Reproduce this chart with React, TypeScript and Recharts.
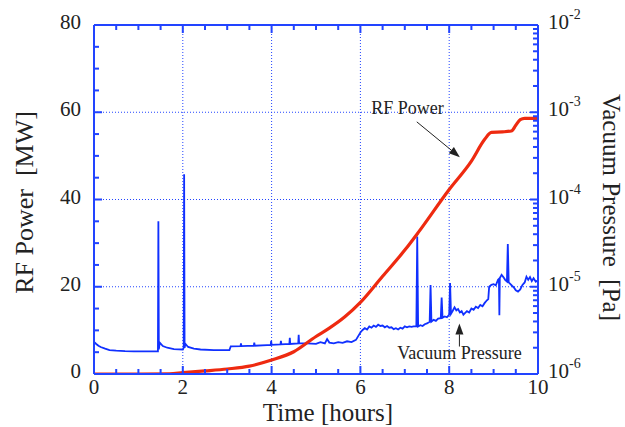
import React from 'react'
import { LineChart, Line, XAxis, YAxis, ReferenceLine, ReferenceDot } from 'recharts'

const AXIS_BLUE = '#2244ff'
const LINE_BLUE = '#1030ff'
const RED = '#ee2a10'
const INK = '#222'
const FONT = '"Liberation Serif", "Times New Roman", serif'

// axis ticks
const timeTicks = [0, 0.5, 1, 1.5, 2, 2.5, 3, 3.5, 4, 4.5, 5, 5.5, 6, 6.5, 7, 7.5, 8, 8.5, 9, 9.5, 10]
const timeGrid = [2, 4, 6, 8]
const powerTicks = [0, 5, 10, 15, 20, 25, 30, 35, 40, 45, 50, 55, 60, 65, 70, 75, 80]
const powerGrid = [20, 40, 60]
const pressureDecades = [1e-6, 1e-5, 1e-4, 1e-3]
const pressureTicks = pressureDecades.flatMap(d => [1, 2, 3, 4, 5, 6, 7, 8, 9].map(m => m * d)).concat([1e-2])

// RF power [MW] vs time [h]
const rfTime = [0, 1.0, 1.7, 2.0, 2.5, 3.0, 3.5, 4.0, 4.5, 5.0, 5.3, 5.65, 6.0, 6.5, 7.0, 7.3, 8.0, 8.5, 8.8, 8.95, 9.2, 9.4, 9.5, 9.6, 9.7, 10]
const rfPower = [0, 0, 0.05, 0.3, 0.7, 1.15, 1.8, 3.2, 5.1, 8.6, 10.5, 13.1, 16.4, 22.4, 28.4, 32.4, 42.3, 48.8, 53.8, 55.4, 55.5, 55.7, 57.0, 58.3, 58.6, 58.6]

// vacuum pressure [Pa] vs time [h]
const vacTime = [
  0, 0.05, 0.1, 0.15, 0.25, 0.35, 0.5, 0.7, 0.9, 1.2, 1.44, 1.45, 1.46, 1.48, 1.55, 1.65, 1.8, 2.0, 2.02, 2.03,
  2.04, 2.06, 2.12, 2.25, 2.4, 2.7, 3.05, 3.08, 3.3, 3.31, 3.32, 3.6, 3.61, 3.62, 3.9, 3.98, 3.99, 4.0, 4.2, 4.21,
  4.22, 4.4, 4.41, 4.42, 4.6, 4.61, 4.62, 4.8, 5.0, 5.1, 5.2, 5.25, 5.3, 5.4, 5.5, 5.6, 5.7, 5.8, 5.9, 6.0,
  6.05, 6.1, 6.15, 6.2, 6.25, 6.3, 6.35, 6.4, 6.45, 6.5, 6.55, 6.6, 6.65, 6.7, 6.75, 6.8, 6.85, 6.9, 6.95, 7.0,
  7.05, 7.1, 7.15, 7.2, 7.26, 7.28, 7.3, 7.35, 7.4, 7.45, 7.5, 7.56, 7.58, 7.6, 7.65, 7.7, 7.75, 7.81, 7.83, 7.85,
  7.9, 7.95, 8.0, 8.02, 8.04, 8.08, 8.12, 8.16, 8.2, 8.24, 8.28, 8.32, 8.36, 8.4, 8.45, 8.5, 8.55, 8.6, 8.65, 8.7,
  8.75, 8.8, 8.85, 8.88, 8.9, 8.95, 9.0, 9.05, 9.1, 9.12, 9.13, 9.14, 9.18, 9.22, 9.26, 9.3, 9.32, 9.34, 9.38, 9.42,
  9.46, 9.5, 9.55, 9.6, 9.65, 9.7, 9.74, 9.78, 9.82, 9.86, 9.9, 9.95, 10.0,
]
const vacPressure = [
  2.34e-6, 2.21e-6, 2.11e-6, 2.04e-6, 1.95e-6, 1.88e-6, 1.85e-6, 1.83e-6, 1.82e-6, 1.82e-6, 1.82e-6, 5.62e-5, 1.91e-6, 2.29e-6, 2.09e-6, 2.0e-6, 1.93e-6, 1.91e-6, 2.0e-6, 1.95e-4,
  2.0e-6, 2.21e-6, 2.04e-6, 1.95e-6, 1.91e-6, 1.88e-6, 1.88e-6, 2.07e-6, 2.09e-6, 2.24e-6, 2.09e-6, 2.11e-6, 2.29e-6, 2.11e-6, 2.14e-6, 2.14e-6, 2.4e-6, 2.16e-6, 2.19e-6, 2.4e-6,
  2.19e-6, 2.21e-6, 2.6e-6, 2.21e-6, 2.24e-6, 2.82e-6, 2.24e-6, 2.24e-6, 2.21e-6, 2.32e-6, 2.24e-6, 2.51e-6, 2.29e-6, 2.24e-6, 2.32e-6, 2.27e-6, 2.37e-6, 2.32e-6, 2.46e-6, 2.99e-6,
  3.2e-6, 3.35e-6, 3.24e-6, 3.51e-6, 3.39e-6, 3.59e-6, 3.47e-6, 3.67e-6, 3.55e-6, 3.59e-6, 3.43e-6, 3.55e-6, 3.39e-6, 3.43e-6, 3.27e-6, 3.35e-6, 3.24e-6, 3.39e-6, 3.31e-6, 3.51e-6,
  3.43e-6, 3.51e-6, 3.47e-6, 3.51e-6, 3.51e-6, 3.76e-5, 3.51e-6, 3.63e-6, 3.55e-6, 3.72e-6, 3.8e-6, 3.98e-6, 1.05e-5, 3.98e-6, 4.17e-6, 4.07e-6, 4.32e-6, 4.37e-6, 7.5e-6, 4.42e-6,
  4.57e-6, 4.47e-6, 4.79e-6, 1.1e-5, 4.9e-6, 5.31e-6, 5.82e-6, 5.37e-6, 5.56e-6, 5.07e-6, 5.25e-6, 4.79e-6, 5.01e-6, 5.25e-6, 5.07e-6, 5.62e-6, 5.43e-6, 5.89e-6, 5.69e-6, 6.17e-6,
  5.96e-6, 6.53e-6, 7.0e-6, 7.24e-6, 1.0e-5, 1.05e-5, 1.07e-5, 1.04e-5, 1.2e-5, 1.23e-5, 4.73e-6, 1.26e-5, 1.37e-5, 1.29e-5, 1.2e-5, 1.15e-5, 3.09e-5, 1.12e-5, 1.07e-5, 1.02e-5,
  9.77e-6, 9.12e-6, 8.81e-6, 9.33e-6, 1.05e-5, 1.12e-5, 1.3e-5, 1.2e-5, 1.29e-5, 1.16e-5, 1.25e-5, 1.14e-5, 1.19e-5,
]

const rfData = rfTime.map((t, i) => ({ t, p: rfPower[i] }))
const vacData = vacTime.map((t, i) => ({ t, v: vacPressure[i] }))

const tickText = { fontSize: 21, fontFamily: FONT, fill: INK }
const axisLine = { stroke: AXIS_BLUE, strokeWidth: 2 }
const MAJOR = 8
const MINOR = 5

// tick marks drawn as thin filled rects pointing into the plot
function LeftTick({ x, y, payload }: any) {
  const major = payload.value % 20 === 0
  return (
    <g>
      <rect x={x} y={y - 1} width={major ? MAJOR : MINOR} height={2} fill={AXIS_BLUE} />
      {major && <text x={x - 13} y={y + 4} textAnchor="end" {...tickText}>{payload.value}</text>}
    </g>
  )
}

function RightTick({ x, y, payload }: any) {
  const v = payload.value
  const e = Math.round(Math.log10(v))
  const major = Math.abs(v / Math.pow(10, e) - 1) < 1e-6
  const len = major ? MAJOR : MINOR
  return (
    <g>
      <rect x={x - len} y={y - 1} width={len} height={2} fill={AXIS_BLUE} />
      {major && (
        <text x={x + 10} y={y + 4} {...tickText}>
          10<tspan dy={-10} fontSize={14}>{e}</tspan>
        </text>
      )}
    </g>
  )
}

function BottomTick({ x, y, payload }: any) {
  const major = payload.value % 2 === 0
  const len = major ? MAJOR : MINOR
  return (
    <g>
      <rect x={x - 1} y={y - len} width={2} height={len} fill={AXIS_BLUE} />
      {major && <text x={x} y={y + 20} textAnchor="middle" {...tickText}>{payload.value}</text>}
    </g>
  )
}

function TopTick({ x, y, payload }: any) {
  const len = payload.value % 2 === 0 ? MAJOR : MINOR
  return <rect x={x - 1} y={y} width={2} height={len} fill={AXIS_BLUE} />
}

const titleStyle = { fontSize: 26, fontFamily: FONT, fill: INK, whiteSpace: 'pre' as const }

const leftTitle = ({ viewBox }: any) => {
  const cx = viewBox.x + viewBox.width - 61
  const cy = viewBox.y + viewBox.height / 2 + 3
  return <text x={cx} y={cy} textAnchor="middle" transform={`rotate(-90, ${cx}, ${cy})`} style={titleStyle}>{'RF Power  [MW]'}</text>
}

const rightTitle = ({ viewBox }: any) => {
  const cx = viewBox.x + 65
  const cy = viewBox.y + viewBox.height / 2 + 8
  return <text x={cx} y={cy} textAnchor="middle" transform={`rotate(90, ${cx}, ${cy})`} style={{ ...titleStyle, fontSize: 25 }}>{'Vacuum Pressure  [Pa]'}</text>
}

const bottomTitle = ({ viewBox }: any) => {
  const cx = viewBox.x + viewBox.width / 2 + 12
  return <text x={cx} y={viewBox.y + 47} textAnchor="middle" style={{ ...titleStyle, fontSize: 25 }}>Time [hours]</text>
}

function Note({ cx, cy, text }: any) {
  return <text x={cx} y={cy} textAnchor="middle" fontSize={18} fontFamily={FONT} fill={INK}>{text}</text>
}

function Arrow({ x1, y1, x2, y2 }: any) {
  const a = Math.atan2(y2 - y1, x2 - x1)
  const len = 11
  const w = 4
  const bx = x2 - len * Math.cos(a)
  const by = y2 - len * Math.sin(a)
  const pts = `${x2},${y2} ${bx + w * Math.sin(a)},${by - w * Math.cos(a)} ${bx - w * Math.sin(a)},${by + w * Math.cos(a)}`
  return (
    <g>
      <line x1={x1} y1={y1} x2={bx} y2={by} stroke={INK} strokeWidth={1} />
      <polygon points={pts} fill={INK} />
    </g>
  )
}

export default function App() {
  return (
    <div style={{ position: 'absolute', left: 0, top: 0, background: '#fff' }}>
      <LineChart width={625} height={427} margin={{ top: 24, right: 27, bottom: 23, left: 34 }}>
        <XAxis xAxisId="bottom" type="number" dataKey="t" domain={[0, 10]} ticks={timeTicks} interval={0}
          allowDataOverflow height={30} tickSize={0} tickMargin={0} tick={<BottomTick />} tickLine={false}
          axisLine={axisLine} label={bottomTitle} />
        <XAxis xAxisId="top" orientation="top" type="number" dataKey="t" domain={[0, 10]} ticks={timeTicks} interval={0}
          allowDataOverflow height={1} tickSize={0} tickMargin={0} tick={<TopTick />} tickLine={false}
          axisLine={axisLine} />
        <YAxis yAxisId="left" type="number" domain={[0, 80]} ticks={powerTicks} interval={0}
          allowDataOverflow width={60} tickSize={0} tickMargin={0} tick={<LeftTick />} tickLine={false}
          axisLine={axisLine} label={leftTitle} />
        <YAxis yAxisId="right" orientation="right" type="number" scale="log" domain={[1e-6, 1e-2]} ticks={pressureTicks} interval={0}
          allowDataOverflow width={60} tickSize={0} tickMargin={0} tick={<RightTick />} tickLine={false}
          axisLine={axisLine} label={rightTitle} />

        {timeGrid.map(t => (
          <ReferenceLine key={`gx${t}`} xAxisId="bottom" yAxisId="left" x={t} stroke={AXIS_BLUE} strokeWidth={1} strokeDasharray="1 2" />
        ))}
        {powerGrid.map(p => (
          <ReferenceLine key={`gy${p}`} xAxisId="bottom" yAxisId="left" y={p} stroke={AXIS_BLUE} strokeWidth={1} strokeDasharray="1 2" />
        ))}

        <Line data={vacData} xAxisId="bottom" yAxisId="right" dataKey="v" type="linear" stroke={LINE_BLUE}
          strokeWidth={1.8} dot={false} isAnimationActive={false} />
        <Line data={rfData} xAxisId="bottom" yAxisId="left" dataKey="p" type="monotone" stroke={RED}
          strokeWidth={3.2} dot={false} isAnimationActive={false} />

        <ReferenceLine xAxisId="bottom" yAxisId="left" segment={[{ x: 7.27, y: 57.8 }, { x: 8.24, y: 49.7 }]} shape={<Arrow />} />
        <ReferenceLine xAxisId="bottom" yAxisId="left" segment={[{ x: 8.23, y: 6.3 }, { x: 8.23, y: 11.6 }]} shape={<Arrow />} />
        <ReferenceDot xAxisId="bottom" yAxisId="left" x={7.06} y={59.7} r={0} shape={<Note text="RF Power" />} />
        <ReferenceDot xAxisId="bottom" yAxisId="left" x={8.23} y={3.55} r={0} shape={<Note text="Vacuum Pressure" />} />
      </LineChart>
    </div>
  )
}
